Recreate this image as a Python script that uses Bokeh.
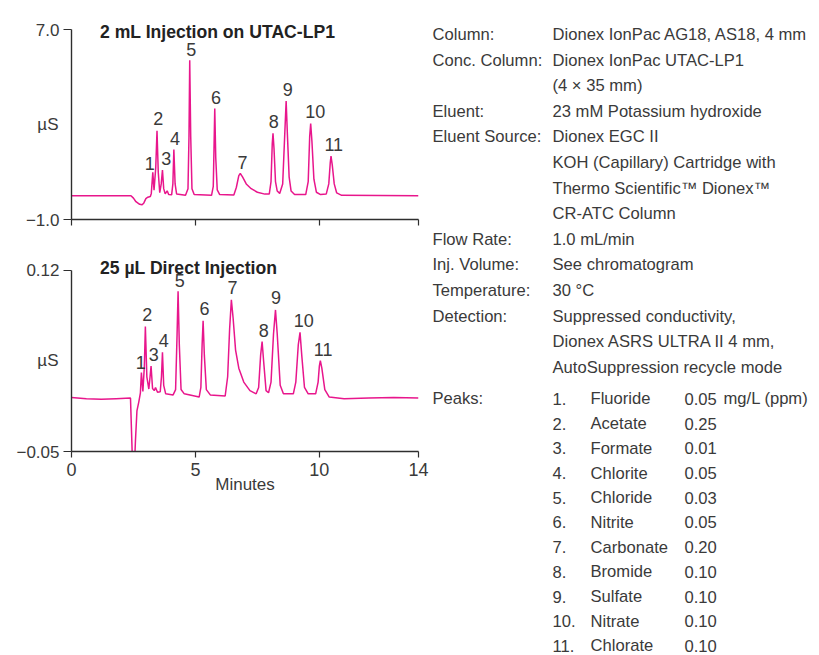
from bokeh.plotting import figure
from bokeh.layouts import row, column
from bokeh.models import Range1d, FixedTicker, CustomJSTickFormatter, Label, LinearAxis
from bokeh.core.properties import value
from bokeh.embed import file_html
from bokeh.resources import INLINE

# ---------------- data ----------------
top_time = [0.0, 2.40, 2.50, 2.60, 2.75, 2.85, 2.92, 3.00, 3.08, 3.18, 3.22, 3.28, 3.33, 3.40, 3.45,
            3.50, 3.56, 3.62, 3.67, 3.72, 3.78, 3.86, 3.92, 4.04, 4.09, 4.13, 4.18, 4.24, 4.60,
            4.70, 4.74, 4.77, 4.81, 4.86, 4.95, 5.65, 5.72, 5.75, 5.78, 5.82, 5.88, 5.98, 6.55,
            6.65, 6.75, 6.81, 6.90, 7.05, 7.25, 7.50, 7.80, 7.98, 8.05, 8.10, 8.13, 8.17, 8.23,
            8.30, 8.40, 8.52, 8.60, 8.66, 8.71, 8.78, 8.86, 9.00, 9.45, 9.55, 9.61, 9.65, 9.70,
            9.78, 9.88, 10.05, 10.28, 10.38, 10.44, 10.47, 10.52, 10.60, 10.70, 10.90, 14.0]
top_signal = [0.0, 0.0, -0.10, -0.25, -0.36, -0.38, -0.30, -0.12, -0.06, -0.03, 0.10, 0.99, 0.24, 1.2, 2.74,
              1.0, 0.13, 0.5, 1.08, 0.3, 0.08, 0.21, 0.05, 0.04, 0.5, 1.95, 0.5, 0.08, 0.02,
              0.3, 2.5, 5.71, 2.5, 0.3, 0.05, 0.02, 0.4, 2.0, 3.68, 1.6, 0.25, 0.05, 0.03,
              0.35, 0.85, 0.94, 0.8, 0.5, 0.3, 0.15, 0.07, 0.08, 0.6, 2.2, 2.63, 2.0, 0.6,
              0.2, 0.1, 0.5, 2.5, 3.99, 2.6, 0.8, 0.2, 0.05, 0.05, 0.6, 2.5, 3.05, 2.3,
              0.7, 0.15, 0.05, 0.08, 0.5, 1.4, 1.67, 1.3, 0.5, 0.12, 0.02, 0.0]

bottom_time = [0.0, 0.6, 1.2, 1.8, 2.38, 2.42, 2.46, 2.52, 2.58, 2.64, 2.72, 2.78, 2.82, 2.88, 2.94,
               2.98, 3.04, 3.12, 3.17, 3.21, 3.27, 3.34, 3.39, 3.47, 3.58, 3.63, 3.67, 3.72, 3.80,
               4.10, 4.20, 4.26, 4.30, 4.35, 4.42, 4.55, 5.15, 5.22, 5.27, 5.31, 5.36, 5.44, 5.60,
               6.20, 6.30, 6.38, 6.45, 6.52, 6.62, 6.75, 6.95, 7.20, 7.45, 7.55, 7.63, 7.69, 7.75,
               7.85, 7.95, 8.05, 8.15, 8.23, 8.30, 8.42, 8.55, 8.95, 9.05, 9.15, 9.22, 9.29, 9.40,
               9.55, 9.85, 9.95, 10.00, 10.04, 10.10, 10.22, 10.40, 11.0, 12.0, 13.0, 14.0]
bottom_signal = [0.0005, -0.0005, -0.001, -0.0005, 0.0, -0.03, -0.06, -0.075, -0.04, -0.012, -0.003, 0.005, 0.024, 0.0063, 0.03,
                 0.067, 0.02, 0.0085, 0.02, 0.030, 0.009, 0.007, 0.010, 0.0055, 0.006, 0.02, 0.043, 0.012, 0.004,
                 0.003, 0.008, 0.06, 0.100, 0.05, 0.008, 0.004, 0.001, 0.01, 0.05, 0.0725, 0.04, 0.008, 0.003,
                 0.002, 0.02, 0.065, 0.092, 0.075, 0.045, 0.028, 0.015, 0.007, 0.004, 0.01, 0.04, 0.053, 0.035,
                 0.007, 0.005, 0.015, 0.06, 0.0826, 0.06, 0.012, 0.004, 0.004, 0.015, 0.05, 0.0616, 0.04, 0.01,
                 0.004, 0.004, 0.015, 0.03, 0.035, 0.028, 0.008, 0.001, -0.0005, 0.0, 0.0005, 0.0]

peak_ids = ["1", "2", "3", "4", "5", "6", "7", "8", "9", "10", "11"]
top_label_time = [3.16, 3.50, 3.82, 4.18, 4.83, 5.83, 6.90, 8.16, 8.72, 9.83, 10.58]
top_label_level = [1.36, 3.26, 1.57, 2.42, 6.16, 4.14, 1.41, 3.12, 4.48, 3.54, 2.16]
bottom_label_time = [2.79, 3.06, 3.32, 3.72, 4.37, 5.37, 6.50, 7.76, 8.25, 9.37, 10.15]
bottom_label_level = [0.0334, 0.078, 0.0404, 0.0544, 0.110, 0.0835, 0.1037, 0.0638, 0.0938, 0.0725, 0.046]

x_ticks = [0, 5, 10, 14]
top_y_ticks = [-1.0, 7.0]
bottom_y_ticks = [-0.05, 0.12]
top_title = "2 mL Injection on UTAC-LP1"
bottom_title = "25 µL Direct Injection"
y_unit = "µS"
x_label = "Minutes"

cond_labels = ["Column:", "Conc. Column:", "", "Eluent:", "Eluent Source:", "", "", "",
               "Flow Rate:", "Inj. Volume:", "Temperature:", "Detection:", "", ""]
cond_values = ["Dionex IonPac AG18, AS18, 4 mm", "Dionex IonPac UTAC-LP1", "(4 × 35 mm)",
               "23 mM Potassium hydroxide", "Dionex EGC II", "KOH (Capillary) Cartridge with",
               "Thermo Scientific™ Dionex™", "CR-ATC Column", "1.0 mL/min", "See chromatogram",
               "30 °C", "Suppressed conductivity,", "Dionex ASRS ULTRA II 4 mm,",
               "AutoSuppression recycle mode"]
peaks_heading = "Peaks:"
peak_names = ["Fluoride", "Acetate", "Formate", "Chlorite", "Chloride", "Nitrite", "Carbonate",
              "Bromide", "Sulfate", "Nitrate", "Chlorate"]
peak_conc = ["0.05", "0.25", "0.01", "0.05", "0.03", "0.05", "0.20", "0.10", "0.10", "0.10", "0.10"]
conc_unit = "mg/L (ppm)"

# ---------------- style ----------------
FONT = "Liberation Sans"
MAG = "#e8168c"
TXT = "#3a3a3a"
AX = "#2e2e2e"


def chrom(height, y0, y1, pad_top, span_px, bbot, times, signal, lt, lv, title, title_dy,
          yticks, ydec, unit_standoff, show_x):
    # extend the range above the top tick so the title sits inside the frame
    y_hi = y1 + pad_top * (y1 - y0) / span_px
    p = figure(width=430, height=height, x_range=Range1d(0, 14), y_range=Range1d(y0, y_hi),
               output_backend="svg", toolbar_location=None,
               min_border_left=71, min_border_right=12, min_border_top=0, min_border_bottom=bbot)
    p.grid.visible = False
    p.outline_line_color = None
    p.line(times, signal, line_color=MAG, line_width=1.5)
    p.text(lt, lv, text=peak_ids, text_align="center", text_baseline="middle",
           text_font=value(FONT), text_font_size="18px", text_color=TXT)

    xa = p.xaxis[0]
    xa.ticker = FixedTicker(ticks=x_ticks)
    xa.axis_line_color = AX
    xa.axis_line_width = 1.4
    xa.major_tick_line_color = AX
    xa.major_tick_line_width = 1.2
    xa.major_tick_out = 6
    xa.major_tick_in = 0
    xa.minor_tick_line_color = None
    xa.major_label_text_font = FONT
    xa.major_label_text_font_size = "18px"
    xa.major_label_text_color = TXT
    xa.major_label_standoff = 5
    if show_x:
        xa.formatter = CustomJSTickFormatter(code="return tick.toFixed(0);")
        xa.axis_label = x_label
        xa.axis_label_text_font = FONT
        xa.axis_label_text_font_size = "17px"
        xa.axis_label_text_font_style = "normal"
        xa.axis_label_text_color = TXT
        xa.axis_label_standoff = -4
    else:
        xa.formatter = CustomJSTickFormatter(code="return '';")

    ya = p.yaxis[0]
    ya.bounds = (y0, y1)
    ya.ticker = FixedTicker(ticks=yticks)
    ya.formatter = CustomJSTickFormatter(code="return tick.toFixed(%d).replace('-', '\u2212');" % ydec)
    ya.axis_line_color = AX
    ya.axis_line_width = 1.4
    ya.major_tick_line_color = AX
    ya.major_tick_line_width = 1.2
    ya.major_tick_out = 8
    ya.major_tick_in = 0
    ya.minor_tick_line_color = None
    ya.major_label_text_font = FONT
    ya.major_label_text_font_size = "17px"
    ya.major_label_text_color = TXT
    ya.major_label_standoff = 4

    # unit text: a second, line-less left axis with a single tick at mid-range
    ua = LinearAxis(ticker=FixedTicker(ticks=[(y0 + y1) / 2]),
                    formatter=CustomJSTickFormatter(args=dict(u=y_unit), code="return u;"),
                    axis_line_color=None, major_tick_line_color=None, minor_tick_line_color=None,
                    major_tick_out=0, major_tick_in=0, major_label_standoff=unit_standoff,
                    major_label_text_font=FONT, major_label_text_font_size="17px",
                    major_label_text_color=TXT)
    p.add_layout(ua, "left")

    p.add_layout(Label(x=1.15, y=y1, y_offset=title_dy, text=title, text_font=FONT,
                       text_font_style="bold", text_font_size="17.6px", text_color="#222222",
                       text_align="left", text_baseline="alphabetic"))
    return p


p1 = chrom(240, -1.0, 7.0, 29.3, 190.0, 21, top_time, top_signal, top_label_time, top_label_level,
           top_title, -2.5, top_y_ticks, 1, -36, False)
p2 = chrom(260, -0.05, 0.12, 29.5, 181.5, 49, bottom_time, bottom_signal, bottom_label_time,
           bottom_label_level, bottom_title, 2, bottom_y_ticks, 2, -45, True)

# ---------------- conditions text panel ----------------
TW, TH = 389, 655
pt = figure(width=TW, height=TH, x_range=Range1d(0, TW), y_range=Range1d(TH, 0),
            output_backend="svg", toolbar_location=None, min_border=0,
            x_axis_type=None, y_axis_type=None)
pt.grid.visible = False
pt.outline_line_color = None

ROW_A, Y_A = 25.6, 28.0      # cap centres (px) of condition rows
ROW_B, Y_B = 24.7, 392.5     # cap centres of peak rows
BASE = 5.9                   # centre -> alphabetic baseline
FS = "16.6px"

ya_rows = [Y_A + i * ROW_A + BASE for i in range(len(cond_values))]
yb_rows = [Y_B + j * ROW_B + BASE for j in range(len(peak_names))]

kw = dict(text_font=value(FONT), text_font_size=FS, text_color=TXT,
          text_align="left", text_baseline="alphabetic")
pt.text([2] * len(cond_labels), ya_rows, text=cond_labels, **kw)
pt.text([122] * len(cond_values), ya_rows, text=cond_values, **kw)
pt.text([2], [yb_rows[0]], text=[peaks_heading], **kw)
pt.text([122] * len(peak_ids), yb_rows, text=[s + "." for s in peak_ids], **kw)
pt.text([160] * len(peak_names), yb_rows, text=peak_names, **kw)
pt.text([254] * len(peak_conc), yb_rows, text=peak_conc, **kw)
pt.text([293], [yb_rows[0]], text=[conc_unit], **kw)

layout = row(column(p1, p2), pt)
open("out.html", "w").write(file_html(layout, INLINE))
